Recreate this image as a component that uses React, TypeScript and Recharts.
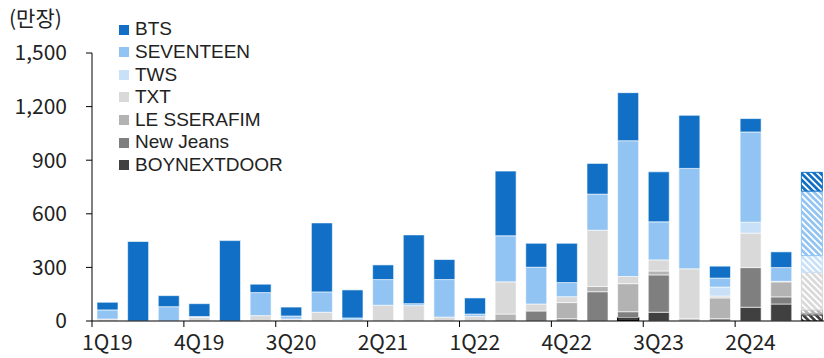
import React from 'react';
import { BarChart, Bar, XAxis, YAxis, Cell } from 'recharts';

const categories = [
  '1Q19', '2Q19', '3Q19', '4Q19', '1Q20', '2Q20', '3Q20', '4Q20',
  '1Q21', '2Q21', '3Q21', '4Q21', '1Q22', '2Q22', '3Q22', '4Q22',
  '1Q23', '2Q23', '3Q23', '4Q23', '1Q24', '2Q24', '3Q24', '4Q24E',
];
const bts = [43, 445, 62, 72, 450, 47, 50, 386, 157, 82, 385, 112, 90, 362, 134, 220, 172, 269, 280, 297, 67, 75, 88, 105];
const seventeen = [51, 0, 80, 5, 0, 129, 17, 114, 12, 144, 11, 210, 13, 258, 206, 79, 202, 760, 213, 562, 50, 505, 77, 361];
const tws = [0, 0, 0, 0, 0, 0, 0, 0, 0, 0, 0, 0, 0, 0, 0, 0, 0, 0, 0, 0, 50, 61, 3, 93];
const txt = [11, 0, 0, 20, 0, 30, 11, 49, 5, 88, 86, 22, 26, 180, 39, 33, 315, 40, 62, 279, 11, 193, 0, 211];
const leSserafim = [0, 0, 0, 0, 0, 0, 0, 0, 0, 0, 0, 0, 0, 39, 0, 90, 29, 157, 22, 13, 116, 0, 84, 19];
const newJeans = [0, 0, 0, 0, 0, 0, 0, 0, 0, 0, 0, 0, 0, 0, 56, 13, 164, 33, 209, 0, 13, 222, 40, 9];
const boynextdoor = [0, 0, 0, 0, 0, 0, 0, 0, 0, 0, 0, 0, 0, 0, 0, 0, 0, 19, 49, 0, 0, 77, 95, 34];

const yTicks = [0, 300, 600, 900, 1200, 1500];
const unitLabel = '(만장)';

// stack order: bottom -> top
const series = [
  { id: 's0', name: 'BOYNEXTDOOR', values: boynextdoor, color: '#404040' },
  { id: 's1', name: 'New Jeans', values: newJeans, color: '#7F7F7F' },
  { id: 's2', name: 'LE SSERAFIM', values: leSserafim, color: '#B3B3B3' },
  { id: 's3', name: 'TXT', values: txt, color: '#D9D9D9' },
  { id: 's4', name: 'TWS', values: tws, color: '#C8E0F8' },
  { id: 's5', name: 'SEVENTEEN', values: seventeen, color: '#92C4F3' },
  { id: 's6', name: 'BTS', values: bts, color: '#1170C6' },
];

const data = categories.map((q, i) => {
  const row: Record<string, any> = { q };
  series.forEach((s) => {
    row[s.id] = s.values[i];
  });
  return row;
});

const FONT = '"Noto Sans CJK KR", "Noto Sans", sans-serif';
const LEGEND_FONT = '"Liberation Sans", Arial, sans-serif';
const FS = 21;
const TEXT = '#222';
const CHART_W = 827;
const CHART_H = 358;
const LEFT = 92;
const BAND = (CHART_W - LEFT) / categories.length;
const FORECAST = categories.length - 1;
const ROW = 22.6;

const XTick = (props: any) => {
  const { x, y, payload, index } = props;
  if (index % 3 !== 0) return <g />;
  const bx = x - BAND / 2;
  return (
    <g>
      <line x1={bx} x2={bx} y1={y} y2={y + 6} stroke="#000" strokeWidth={1} />
      <text x={x} y={y + 29} textAnchor="middle" fontSize={FS} fill={TEXT} fontFamily={FONT}>
        {payload.value}
      </text>
    </g>
  );
};

export default function App() {
  const legendItems = [...series].reverse();
  return (
    <div style={{ position: 'fixed', left: 0, top: 0, width: 824, height: 358, overflow: 'hidden', background: '#fff' }}>
      <BarChart
        width={CHART_W}
        height={CHART_H}
        data={data}
        margin={{ top: 53, right: 0, bottom: 0, left: 0 }}
        barSize={21}
      >
        <defs>
          {series.map((s) => (
            <pattern
              key={s.id}
              id={`hatch-${s.id}`}
              patternUnits="userSpaceOnUse"
              width={4.5}
              height={4.5}
              patternTransform="rotate(-45)"
            >
              <rect x={0} y={0} width={4.5} height={4.5} fill={s.color} />
              <rect x={0} y={0} width={1.8} height={4.5} fill="#fff" />
            </pattern>
          ))}
        </defs>
        <XAxis
          dataKey="q"
          interval={0}
          tickSize={0}
          tickMargin={0}
          height={37}
          axisLine={{ stroke: '#000', strokeWidth: 1.2 }}
          tickLine={false}
          tick={<XTick />}
        />
        <YAxis
          domain={[0, 1500]}
          ticks={yTicks}
          interval={0}
          width={LEFT}
          tickSize={6}
          tickMargin={19}
          axisLine={{ stroke: '#000', strokeWidth: 1 }}
          tickLine={{ stroke: '#000' }}
          tick={{ fontSize: FS, fill: TEXT, fontFamily: FONT }}
          tickFormatter={(v: number) => v.toLocaleString('en-US')}
          allowDataOverflow
        />
        {series.map((s) => (
          <Bar key={s.id} dataKey={s.id} name={s.name} stackId="a" fill={s.color} isAnimationActive={false}>
            {data.map((d, i) => {
              const v = d[s.id] as number;
              const forecast = i === FORECAST;
              let stroke = v > 0 ? '#fff' : 'none';
              let sw = 0.6;
              if (forecast && v > 0) {
                stroke = s.color;
                sw = 1;
              }
              if (s.id === 's0' && i === 17) {
                stroke = '#000';
                sw = 1.3;
              }
              return (
                <Cell
                  key={`c-${i}`}
                  fill={forecast ? `url(#hatch-${s.id})` : s.color}
                  stroke={stroke}
                  strokeWidth={sw}
                />
              );
            })}
          </Bar>
        ))}
      </BarChart>
      <div
        style={{
          position: 'absolute',
          left: 9,
          top: 5,
          height: 24,
          fontFamily: FONT,
          fontSize: FS,
          lineHeight: '24px',
          color: TEXT,
          whiteSpace: 'nowrap',
        }}
      >
        {unitLabel}
      </div>
      <div style={{ position: 'absolute', left: 119, top: 18.4, fontFamily: LEGEND_FONT, fontSize: 19, color: TEXT }}>
        {legendItems.map((s) => (
          <div key={s.id} style={{ display: 'flex', alignItems: 'center', height: ROW, whiteSpace: 'nowrap' }}>
            <span style={{ display: 'inline-block', width: 10, height: 10, background: s.color, marginRight: 6 }} />
            <span style={{ display: 'inline-block', height: ROW, lineHeight: `${ROW}px` }}>{s.name}</span>
          </div>
        ))}
      </div>
    </div>
  );
}
